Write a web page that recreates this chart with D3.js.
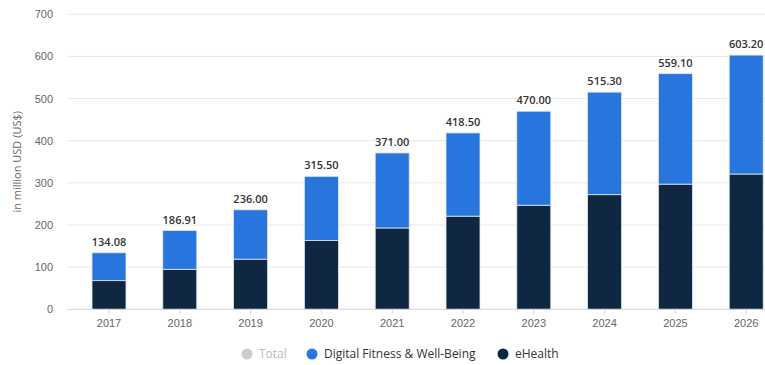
<!DOCTYPE html>
<html>
<head>
<meta charset="utf-8">
<script src="https://cdn.jsdelivr.net/npm/d3@7"></script>
<style>
  body { margin: 0; background: #fff; }
  svg { display: block; font-family: "Open Sans", sans-serif; }
</style>
</head>
<body>
<div id="chart"></div>
<script>
// Chart data
const years = ['2017', '2018', '2019', '2020', '2021', '2022', '2023', '2024', '2025', '2026'];
const totals = [134.08, 186.91, 236.00, 315.50, 371.00, 418.50, 470.00, 515.30, 559.10, 603.20];
const eHealth = [68, 95, 119, 163, 193, 221, 247, 272, 297, 321];
const yTicks = [0, 100, 200, 300, 400, 500, 600, 700];
const legendItems = ['Total', 'Digital Fitness & Well-Being', 'eHealth'];

const width = 765, height = 365;
const colors = { fitness: '#2876dd', ehealth: '#0f2740', total: '#cccccc' };

// stacked rows: eHealth at the bottom, fitness = total - eHealth
const rows = years.map((y, i) => ({
  year: y,
  ehealth: eHealth[i],
  fitness: totals[i] - eHealth[i],
  total: totals[i]
}));

const svg = d3.select('#chart').append('svg')
  .attr('width', width)
  .attr('height', height);

const yScale = d3.scaleLinear()
  .domain([0, 700])
  .range([309.3, 14.3]);

const xScale = d3.scaleBand()
  .domain(years)
  .range([73.6, 781.6])
  .paddingInner(0.52)
  .paddingOuter(0.26);

// Grid lines
svg.append('g')
  .selectAll('line')
  .data(yTicks.slice(1))
  .join('line')
  .attr('x1', 67)
  .attr('x2', width)
  .attr('y1', d => yScale(d))
  .attr('y2', d => yScale(d))
  .attr('stroke', '#e8e8e8')
  .attr('stroke-width', 1);

// Y axis labels
const yAxis = d3.axisLeft(yScale)
  .tickValues(yTicks)
  .tickSize(0)
  .tickPadding(0);
const yAxisG = svg.append('g')
  .attr('transform', 'translate(53,0)')
  .call(yAxis);
yAxisG.select('.domain').remove();
yAxisG.selectAll('text')
  .attr('fill', '#666')
  .attr('font-size', 11);

// Y axis title
svg.append('text')
  .attr('transform', `translate(21,${yScale(350)}) rotate(-90)`)
  .attr('text-anchor', 'middle')
  .attr('fill', '#666')
  .attr('font-size', 11)
  .text('in million USD (US$)');

// Stacked bars
const stack = d3.stack().keys(['ehealth', 'fitness']);
const series = stack(rows);

svg.append('g')
  .selectAll('g')
  .data(series)
  .join('g')
  .attr('fill', d => d.key === 'ehealth' ? colors.ehealth : colors.fitness)
  .selectAll('rect')
  .data(d => d)
  .join('rect')
  .attr('x', d => xScale(d.data.year))
  .attr('width', xScale.bandwidth())
  .attr('y', d => yScale(d[1]))
  .attr('height', d => yScale(d[0]) - yScale(d[1]))
  .attr('stroke', '#dfe6ef')
  .attr('stroke-width', 0.8);

// X axis
const xAxis = d3.axisBottom(xScale)
  .tickSize(5)
  .tickPadding(5)
  .tickSizeOuter(0);
const xAxisG = svg.append('g')
  .attr('transform', `translate(0,${yScale(0)})`)
  .call(xAxis);
xAxisG.select('.domain')
  .attr('d', `M67,0H${width}`)
  .attr('stroke', '#cdd5df');
xAxisG.selectAll('.tick line').attr('stroke', '#cdd5df');
xAxisG.selectAll('text')
  .attr('fill', '#666')
  .attr('font-size', 11);

// Total labels
svg.append('g')
  .selectAll('text')
  .data(rows)
  .join('text')
  .attr('x', d => xScale(d.year) + xScale.bandwidth() / 2)
  .attr('y', d => yScale(d.total) - 7)
  .attr('text-anchor', 'middle')
  .attr('fill', '#333')
  .attr('font-size', 11)
  .attr('font-weight', 600)
  .text(d => d3.format('.2f')(d.total));

// Legend
const legendX = [247, 312, 503];
const legendColors = [colors.total, colors.fitness, colors.ehealth];
const legend = svg.append('g')
  .selectAll('g')
  .data(legendItems)
  .join('g')
  .attr('transform', (d, i) => `translate(${legendX[i]},354)`);
legend.append('circle')
  .attr('r', 5.5)
  .attr('fill', (d, i) => legendColors[i]);
legend.append('text')
  .attr('x', 12)
  .attr('dy', '0.35em')
  .attr('fill', (d, i) => i === 0 ? '#bbb' : '#333')
  .attr('font-size', 12)
  .text(d => d);
</script>
</body>
</html>
